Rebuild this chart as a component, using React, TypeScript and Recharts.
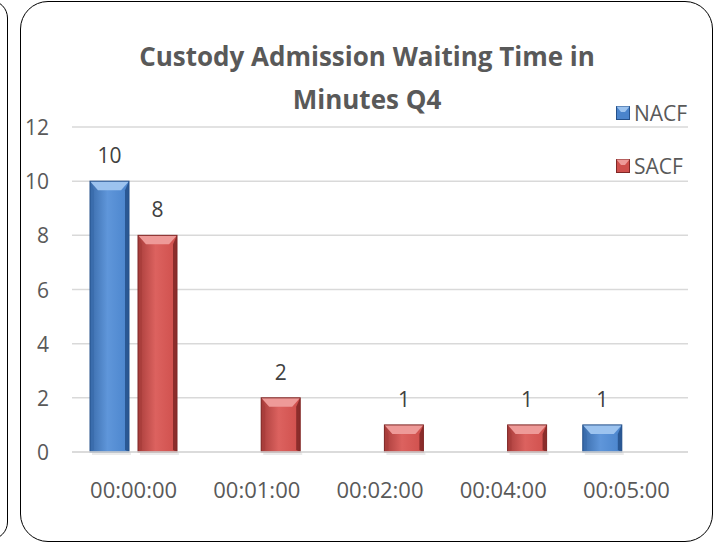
import React from 'react';
import { BarChart, Bar, XAxis, YAxis, CartesianGrid, LabelList } from 'recharts';

const categories = ['00:00:00', '00:01:00', '00:02:00', '00:04:00', '00:05:00'];
const nacfValues: (number | null)[] = [10, null, null, null, 1];
const sacfValues: (number | null)[] = [8, 2, 1, 1, null];
const yTicks = [0, 2, 4, 6, 8, 10, 12];
const seriesNames = ['NACF', 'SACF'];

const data = categories.map((time, i) => ({
  time,
  NACF: nacfValues[i],
  SACF: sacfValues[i],
}));

const FONT = '"Open Sans", "DejaVu Sans", sans-serif';

// shades for the bevelled bars
const PALETTE: Record<string, { body: string; light: string; top: string; side: string; edge: string }> = {
  NACF: { body: '#4a84cc', light: '#5f96da', top: '#9cc3ef', side: '#3a6cab', edge: '#24508a' },
  SACF: { body: '#cf4f4c', light: '#dc625f', top: '#ee9a98', side: '#a83d3b', edge: '#7f2726' },
};

const BevelBar = (props: any) => {
  const { x, y, width, height, dataKey } = props;
  if (!height || height <= 0) return null;
  const c = PALETTE[dataKey];
  const b = Math.min(9, height / 2);
  const s = 4;
  const id = `grad-${dataKey}`;
  return (
    <g>
      <defs>
        <linearGradient id={id} x1="0" y1="0" x2="1" y2="0">
          <stop offset="0%" stopColor={c.side} />
          <stop offset="45%" stopColor={c.light} />
          <stop offset="100%" stopColor={c.body} />
        </linearGradient>
      </defs>
      <rect x={x + 2} y={y + height} width={width} height={3} fill="#000" opacity={0.08} />
      <rect x={x} y={y} width={width} height={height} fill={`url(#${id})`} />
      <polygon points={`${x},${y} ${x + s},${y + b} ${x + s},${y + height - 2} ${x},${y + height}`} fill={c.side} opacity={0.8} />
      <polygon points={`${x + width},${y} ${x + width - s},${y + b} ${x + width - s},${y + height - 2} ${x + width},${y + height}`} fill={c.edge} opacity={0.85} />
      <polygon points={`${x},${y} ${x + width},${y} ${x + width - 8},${y + b} ${x + 8},${y + b}`} fill={c.top} />
      <rect x={x} y={y} width={width} height={height} fill="none" stroke={c.edge} strokeWidth={1} />
    </g>
  );
};

const BarLabel = (props: any) => {
  const { x, y, width, value } = props;
  if (value === null || value === undefined) return null;
  return (
    <text x={x + width / 2} y={y - 26} textAnchor="middle" dominantBaseline="central"
      fontFamily={FONT} fontSize={21} fill="#404040">
      {value}
    </text>
  );
};

const YTick = (props: any) => {
  const { y, payload } = props;
  return (
    <text x={49} y={y} textAnchor="end" dominantBaseline="central" fontFamily={FONT} fontSize={21} fill="#595959">
      {payload.value}
    </text>
  );
};

const XTick = (props: any) => {
  const { x, y, payload } = props;
  return (
    <text x={x} y={y + 29} textAnchor="middle" dominantBaseline="central" fontFamily={FONT} fontSize={22} fill="#595959">
      {payload.value}
    </text>
  );
};

const LegendBox = () => (
  <div style={{ position: 'absolute', left: 616, top: 100, fontFamily: FONT, fontSize: 21, color: '#595959' }}>
    {seriesNames.map((key, i) => (
      <div key={key} style={{ position: 'absolute', left: 0, top: i * 53, display: 'flex', alignItems: 'center', height: 26 }}>
        <svg width={14} height={14} style={{ marginRight: 4 }}>
          <rect x={0.5} y={0.5} width={13} height={13} fill={PALETTE[key].body} stroke={PALETTE[key].edge} />
          <polygon points="0.5,0.5 13.5,0.5 9,6 5,6" fill={PALETTE[key].top} />
        </svg>
        <span>{key}</span>
      </div>
    ))}
  </div>
);

export default function App() {
  return (
    <div style={{ position: 'absolute', left: 0, top: 0, width: 715, height: 545, background: '#fff', overflow: 'hidden' }}>
      <div style={{ position: 'absolute', left: -40, top: 0, width: 46, height: 538, border: '1.5px solid #000', borderRadius: 18 }} />
      <div style={{ position: 'absolute', left: 20, top: 1, width: 691, height: 539, border: '1.5px solid #000', borderRadius: 28 }} />
      <div style={{
        position: 'absolute', left: 20, top: 35, width: 694, textAlign: 'center',
        fontFamily: FONT, fontWeight: 700, fontSize: 26, lineHeight: '43px', color: '#595959',
      }}>
        Custody Admission Waiting Time in<br />Minutes Q4
      </div>
      <div style={{ position: 'absolute', left: 0, top: 0 }}>
        <BarChart width={715} height={545} data={data} margin={{ top: 127, right: 27, bottom: 63, left: 32 }}
          barSize={39} barGap={9}>
          <CartesianGrid horizontal vertical={false} stroke="#d9d9d9" strokeWidth={1.5} />
          <XAxis dataKey="time" tick={<XTick />} tickLine={false} axisLine={{ stroke: '#d9d9d9', strokeWidth: 1.5 }} height={30} />
          <YAxis domain={[0, 12]} ticks={yTicks} tick={<YTick />} tickLine={false} axisLine={false} width={40} />
          <Bar dataKey="NACF" shape={<BevelBar />} isAnimationActive={false}>
            <LabelList dataKey="NACF" content={<BarLabel />} />
          </Bar>
          <Bar dataKey="SACF" shape={<BevelBar />} isAnimationActive={false}>
            <LabelList dataKey="SACF" content={<BarLabel />} />
          </Bar>
        </BarChart>
      </div>
      <LegendBox />
    </div>
  );
}
